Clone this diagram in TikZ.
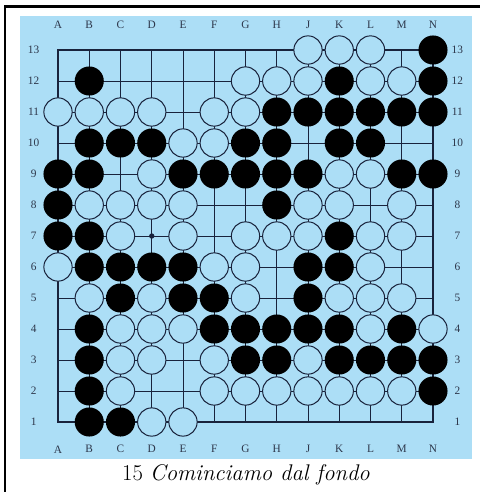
\documentclass[tikz,border=0pt]{standalone}
\usepackage{fontspec}
\newfontfamily\labelfont{Liberation Serif}
\definecolor{bgblue}{RGB}{172,222,246}
\definecolor{inkline}{RGB}{25,35,60}
\definecolor{labelink}{RGB}{45,55,75}
\tikzset{
  gridline/.style={draw=inkline, line width=0.7pt},
  edgeline/.style={draw=inkline, line width=1.4pt},
  blackstone/.style={fill=black},
  whitestone/.style={draw=inkline, line width=0.75pt, fill=bgblue},
  coordlabel/.style={text=labelink, font=\labelfont\fontsize{8.5}{8.5}\selectfont, inner sep=0pt},
  framepart/.style={draw=black, line width=2.2pt}
}
\begin{document}
\begin{tikzpicture}[x=0.75pt,y=-0.75pt]
\useasboundingbox (0,0) rectangle (480,492);
\fill[bgblue] (20,16) rectangle (472,459);
\draw[framepart] (5,492) -- (5,6.5) -- (480,6.5);
\begin{scope}[shift={(58,453)}, x={(31.25,0)}, y={(0,-31)}]
  \foreach \i in {0,...,12} \draw[gridline] (\i,1) -- (\i,13);
  \foreach \r in {1,...,13} \draw[gridline] (0,\r) -- (12,\r);
  \draw[edgeline] (0,1) rectangle (12,13);
  \fill[inkline] (3,7) circle[radius=2pt];
  \foreach \r/\cols in {13/{12}, 12/{1,9,12}, 11/{7,8,9,10,11,12},
      10/{1,2,3,6,7,9,10}, 9/{0,1,4,5,6,7,8,11,12}, 8/{0,7}, 7/{0,1,9},
      6/{1,2,3,4,8,9}, 5/{2,4,5,8}, 4/{1,5,6,7,8,9,11},
      3/{1,6,7,9,10,11,12}, 2/{1,12}, 1/{1,2}}
    \foreach \c in \cols \fill[blackstone] (\c,\r) circle[radius=10.9pt];
  \foreach \r/\cols in {13/{8,9,10}, 12/{6,7,8,10,11}, 11/{0,1,2,3,5,6},
      10/{4,5}, 9/{3,9,10}, 8/{1,2,3,4,8,9,11}, 7/{2,4,6,7,8,10,11},
      6/{0,5,6,10}, 5/{1,3,6,9,10,11}, 4/{2,3,4,10,12}, 3/{2,3,5,8},
      2/{2,5,6,7,8,9,10,11}, 1/{3,4}}
    \foreach \c in \cols \draw[whitestone] (\c,\r) circle[radius=10.6pt];
  \foreach \l [count=\k from 0] in {A,B,C,D,E,F,G,H,J,K,L,M,N} {
    \node[coordlabel] (top\l) at (\k,13.82) {\l};
    \node[coordlabel] (bot\l) at (\k,0.12) {\l};
  }
  \foreach \r in {1,...,13} {
    \node[coordlabel] (left\r) at (-0.78,\r) {\r};
    \node[coordlabel] (right\r) at (12.78,\r) {\r};
  }
\end{scope}
\node[inner sep=0pt, font=\fontsize{17}{17}\selectfont] (caption) at (246,475) {15 \textit{Cominciamo dal fondo}};
\end{tikzpicture}
\end{document}
